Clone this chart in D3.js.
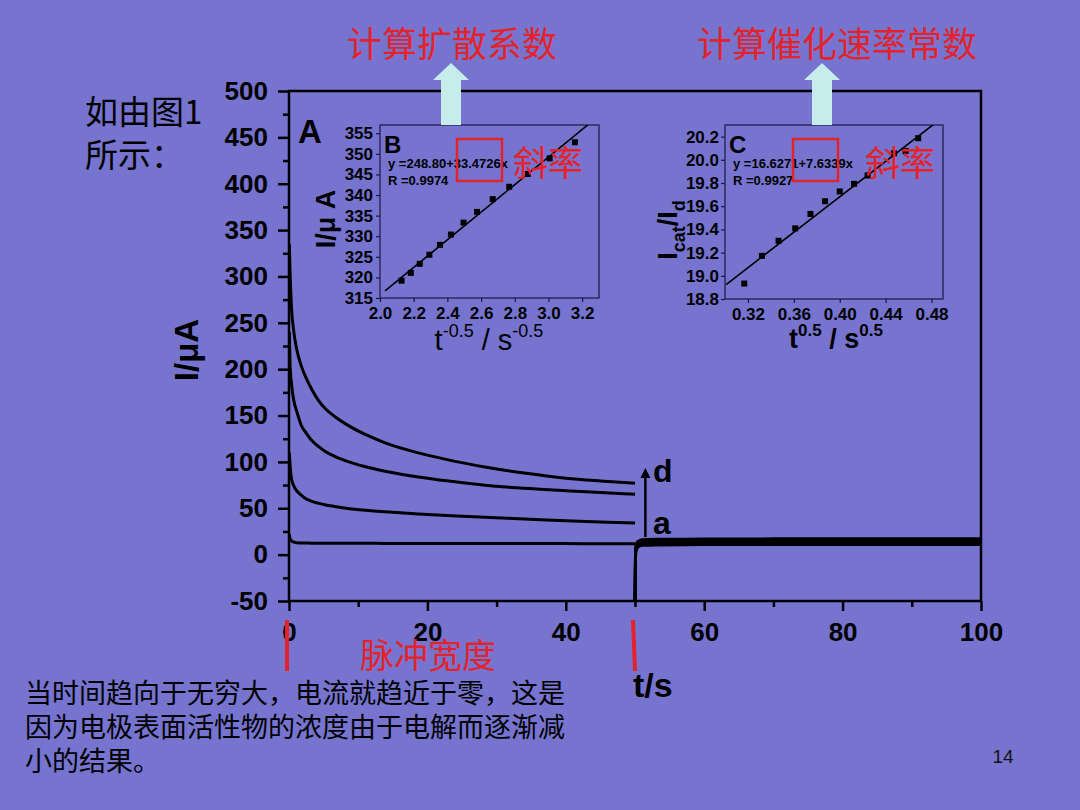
<!DOCTYPE html>
<html>
<head>
<meta charset="utf-8">
<script src="https://cdn.jsdelivr.net/npm/d3@7/dist/d3.min.js"></script>
<style>
	html, body { margin: 0; padding: 0; background: #7674cf; }
	svg { display: block; }
	.num { font-family: "Liberation Sans", Arial, sans-serif; font-weight: bold; fill: #000; }
	.cjk { font-family: "Noto Sans CJK SC", sans-serif; }
</style>
</head>
<body>
<div id="chart"></div>
<script>
// main chart (A): current transients, pulse part 0..50 s
let tPulse = [0.05, 0.15, 0.35, 0.7, 1.1, 1.8, 2.5, 3.3, 4.2, 5.3, 6.6, 9.1, 11.5, 13.9, 18.7, 23.5, 28.3, 34, 40, 45, 50];
let curveA = [22, 17, 15, 13.5, 12.8, 12.6, 12.5, 12.4, 12.4, 12.3, 12.3, 12.2, 12.2, 12.1, 12.1, 12, 12, 11.9, 11.9, 11.8, 11.8];
let curveB = [110, 97, 82, 74, 69, 64, 60, 57.5, 55.5, 53.5, 52, 49.3, 47.5, 46.2, 43.9, 42, 40.3, 38.5, 36.5, 35.2, 34];
let curveC = [240, 205, 185, 166, 155, 139, 131, 123, 117, 111, 106, 99, 94, 90, 83.8, 79, 74.8, 71.5, 69, 67, 65];
let curveD = [335, 305, 268, 240, 222, 203, 190, 178, 167, 157, 149, 137, 128, 120.5, 109.7, 101.4, 94.6, 88, 82.5, 79.5, 77];

// rest part 50..100 s
let tRest = [50, 50.1, 50.4, 51, 53, 60, 70, 80, 90, 100];
let restA = [-60, 2, 8, 10, 10.5, 10.8, 11, 11, 11, 11];
let restB = [-60, 4, 10, 12, 12.5, 12.8, 13, 13, 13, 13];
let restC = [-60, 6, 12, 14, 14.5, 14.8, 15, 15, 15, 15];
let restD = [-60, 8, 14, 16, 16.5, 16.8, 17, 17, 17, 17];

let mainYTicks = [-50, 0, 50, 100, 150, 200, 250, 300, 350, 400, 450, 500];
let mainXTicks = [0, 20, 40, 60, 80, 100];

// inset B: I vs t^-0.5
let bX = [2.128, 2.183, 2.236, 2.293, 2.356, 2.421, 2.496, 2.576, 2.669, 2.767, 2.877, 3.007, 3.157];
let bY = [319.2, 321.1, 323.3, 325.5, 327.9, 330.4, 333.3, 335.9, 339.0, 342.0, 345.1, 348.9, 352.8];
let bFit = [248.80, 33.4726];
let bYTicks = [315, 320, 325, 330, 335, 340, 345, 350, 355];
let bXTicks = [2.0, 2.2, 2.4, 2.6, 2.8, 3.0, 3.2];

// inset C: Icat/Id vs t^0.5
let cX = [0.3168, 0.3322, 0.3467, 0.3612, 0.3745, 0.3872, 0.4000, 0.4125, 0.4243, 0.4472, 0.4574, 0.4684];
let cY = [18.933, 19.172, 19.302, 19.409, 19.533, 19.643, 19.727, 19.793, 19.865, 20.056, 20.076, 20.186];
let cFit = [16.6271, 7.6339];
let cYTicks = [18.8, 19.0, 19.2, 19.4, 19.6, 19.8, 20.0, 20.2];
let cXTicks = [0.32, 0.36, 0.40, 0.44, 0.48];

let red = "#e3232b";
let svg = d3.select("#chart").append("svg")
	.attr("width", 1080)
	.attr("height", 810);

let defs = svg.append("defs");
function clip(id, x, y, w, h) {
	defs.append("clipPath").attr("id", id)
		.append("rect").attr("x", x).attr("y", y).attr("width", w).attr("height", h);
}

// ---------- main chart ----------
let x = d3.scaleLinear().domain([0, 100]).range([289, 981]);
let y = d3.scaleLinear().domain([-50, 500]).range([601, 91]);
clip("clipMain", 289, 91, 692, 510);

let plain = function(d) { return String(d); };
let gy = svg.append("g").attr("transform", "translate(289,0)")
	.call(d3.axisLeft(y).tickValues(mainYTicks).tickSize(11).tickPadding(10).tickFormat(plain));
svg.append("g").attr("transform", "translate(289,0)")
	.call(d3.axisLeft(y).tickValues(mainYTicks.slice(0, -1).map(function(d) { return d + 25; })).tickSize(6).tickFormat(""));
let gx = svg.append("g").attr("transform", "translate(0,601)")
	.call(d3.axisBottom(x).tickValues(mainXTicks).tickSize(10).tickPadding(12).tickFormat(plain));
svg.append("g").attr("transform", "translate(0,601)")
	.call(d3.axisBottom(x).tickValues([10, 30, 50, 70, 90]).tickSize(6).tickFormat(""));
svg.selectAll(".domain").remove();
svg.selectAll(".tick line").attr("stroke", "#000").attr("stroke-width", 2.5);
gy.selectAll("text").attr("class", "num").style("font-size", "26px");
gx.selectAll("text").attr("class", "num").style("font-size", "26px");

svg.append("rect")
	.attr("x", 289).attr("y", 91).attr("width", 692).attr("height", 510)
	.attr("fill", "none").attr("stroke", "#000").attr("stroke-width", 2.5);

let line = d3.line()
	.x(function(d) { return x(d[0]); })
	.y(function(d) { return y(d[1]); })
	.curve(d3.curveMonotoneX);
let curves = svg.append("g").attr("clip-path", "url(#clipMain)");
[curveA, curveB, curveC, curveD].forEach(function(vals) {
	curves.append("path")
		.attr("d", line(tPulse.map(function(t, i) { return [t, vals[i]]; })))
		.attr("fill", "none").attr("stroke", "#000").attr("stroke-width", 3);
});
[restA, restB, restC, restD].forEach(function(vals) {
	curves.append("path")
		.attr("d", line(tRest.map(function(t, i) { return [t, vals[i]]; })))
		.attr("fill", "none").attr("stroke", "#000").attr("stroke-width", 3);
});

// a -> d arrow
defs.append("marker").attr("id", "head")
	.attr("viewBox", "0 0 10 10").attr("refX", 5).attr("refY", 5)
	.attr("markerWidth", 4).attr("markerHeight", 5).attr("orient", "auto")
	.append("path").attr("d", "M0,0L10,5L0,10Z").attr("fill", "#000");
svg.append("line")
	.attr("x1", x(51.5)).attr("x2", x(51.5))
	.attr("y1", y(19)).attr("y2", y(88))
	.attr("stroke", "#000").attr("stroke-width", 2.5)
	.attr("marker-end", "url(#head)");
svg.append("text").attr("class", "num").attr("x", x(52.6)).attr("y", y(78))
	.style("font-size", "32px").text("d");
svg.append("text").attr("class", "num").attr("x", x(52.6)).attr("y", y(22))
	.style("font-size", "32px").text("a");
svg.append("text").attr("class", "num").attr("x", 298).attr("y", 143)
	.style("font-size", "33px").text("A");

svg.append("text").attr("class", "num")
	.attr("transform", "translate(198,350) rotate(-90)")
	.attr("text-anchor", "middle").style("font-size", "33px").text("I/μA");
svg.append("text").attr("class", "num").attr("x", 633).attr("y", 697)
	.style("font-size", "34px").text("t/s");

// ---------- inset helper ----------
function inset(opt) {
	let ix = d3.scaleLinear().domain(opt.xd).range(opt.xr);
	let iy = d3.scaleLinear().domain(opt.yd).range(opt.yr);
	let w = opt.xr[1] - opt.xr[0], h = opt.yr[0] - opt.yr[1];
	clip(opt.id, opt.xr[0], opt.yr[1], w, h);

	let g = svg.append("g");
	let ay = g.append("g").attr("transform", "translate(" + opt.xr[0] + ",0)")
		.call(d3.axisLeft(iy).tickValues(opt.yt).tickSize(4).tickPadding(opt.yPad).tickFormat(opt.yf));
	let ax = g.append("g").attr("transform", "translate(0," + opt.yr[0] + ")")
		.call(d3.axisBottom(ix).tickValues(opt.xt).tickSize(4).tickPadding(5).tickFormat(opt.xf));
	g.selectAll(".domain").remove();
	g.selectAll(".tick line").attr("stroke", "#1a1a40").attr("stroke-width", 1.2);
	ay.selectAll("text").attr("class", "num").style("font-size", "17px");
	ax.selectAll("text").attr("class", "num").style("font-size", "17px");
	g.append("rect")
		.attr("x", opt.xr[0]).attr("y", opt.yr[1]).attr("width", w).attr("height", h)
		.attr("fill", "none").attr("stroke", "#1a1a40").attr("stroke-width", 1.2);

	let inner = g.append("g").attr("clip-path", "url(#" + opt.id + ")");
	inner.append("line")
		.attr("x1", ix(opt.fitFrom)).attr("y1", iy(opt.fit[0] + opt.fit[1] * opt.fitFrom))
		.attr("x2", ix(opt.xd[1])).attr("y2", iy(opt.fit[0] + opt.fit[1] * opt.xd[1]))
		.attr("stroke", "#000").attr("stroke-width", 1.6);
	inner.selectAll("rect.pt")
		.data(opt.px)
		.enter()
		.append("rect")
		.attr("class", "pt")
		.attr("x", function(d) { return ix(d) - 3; })
		.attr("y", function(d, i) { return iy(opt.py[i]) - 3; })
		.attr("width", 6).attr("height", 6)
		.attr("fill", "#000");

	let tx = opt.xr[0] + 6;
	g.append("text").attr("class", "num").attr("x", opt.xr[0] + 4).attr("y", opt.yr[1] + 28)
		.style("font-size", "24px").text(opt.letter);
	g.append("text").attr("class", "num").attr("x", tx + 2).attr("y", opt.yr[1] + 43)
		.style("font-size", "13px").text(opt.eq);
	g.append("text").attr("class", "num").attr("x", tx + 2).attr("y", opt.yr[1] + 60)
		.style("font-size", "13px").text(opt.r);
	return g;
}

inset({
	id: "clipB", xd: [2.0, 3.3], xr: [380, 599], yd: [315, 357], yr: [298, 125],
	xt: bXTicks, yt: bYTicks, xf: d3.format(".1f"), yf: d3.format("d"), yPad: 3,
	px: bX, py: bY, fit: bFit, fitFrom: 2.03,
	letter: "B", eq: "y =248.80+33.4726x", r: "R =0.9974"
});
inset({
	id: "clipC", xd: [0.30, 0.49], xr: [725, 943], yd: [18.8, 20.3], yr: [299, 125],
	xt: cXTicks, yt: cYTicks, xf: d3.format(".2f"), yf: d3.format(".1f"), yPad: 2,
	px: cX, py: cY, fit: cFit, fitFrom: 0.301,
	letter: "C", eq: "y =16.6271+7.6339x", r: "R =0.9927"
});

// inset axis titles
let tB = svg.append("text").attr("class", "num").attr("x", 489).attr("y", 350)
	.attr("text-anchor", "middle").style("font-weight", "normal").style("font-size", "29px");
tB.append("tspan").text("t");
tB.append("tspan").attr("dy", -13).style("font-size", "18px").text("-0.5");
tB.append("tspan").attr("dy", 13).text(" / s");
tB.append("tspan").attr("dy", -13).style("font-size", "18px").text("-0.5");

let tC = svg.append("text").attr("class", "num").attr("x", 836).attr("y", 348)
	.attr("text-anchor", "middle").style("font-size", "27px");
tC.append("tspan").text("t");
tC.append("tspan").attr("dy", -12).style("font-size", "17px").text("0.5");
tC.append("tspan").attr("dy", 12).text(" / s");
tC.append("tspan").attr("dy", -12).style("font-size", "17px").text("0.5");

svg.append("text").attr("class", "num")
	.attr("transform", "translate(335,219) rotate(-90)")
	.attr("text-anchor", "middle").style("font-size", "27px").text("I/μ A");
let yC = svg.append("text").attr("class", "num")
	.attr("transform", "translate(677,230) rotate(-90)")
	.attr("text-anchor", "middle").style("font-size", "27px");
yC.append("tspan").text("I");
yC.append("tspan").attr("dy", 8).style("font-size", "18px").text("cat");
yC.append("tspan").attr("dy", -8).text("/I");
yC.append("tspan").attr("dy", 8).style("font-size", "18px").text("d");

// red boxes and slope labels
[[457, 139], [793, 139]].forEach(function(p) {
	svg.append("rect").attr("x", p[0]).attr("y", p[1]).attr("width", 45).attr("height", 42)
		.attr("fill", "none").attr("stroke", red).attr("stroke-width", 2.5);
});
[513, 865].forEach(function(px) {
	svg.append("text").attr("class", "cjk").attr("x", px).attr("y", 176)
		.attr("fill", red).style("font-size", "35px").text("斜率");
});

// up arrows and red titles
[451, 822].forEach(function(cx) {
	svg.append("path")
		.attr("d", "M" + (cx - 10) + ",125V80H" + (cx - 18) + "L" + cx + ",63L" + (cx + 18) + ",80H" + (cx + 10) + "V125Z")
		.attr("fill", "#c6ecec");
});
svg.append("text").attr("class", "cjk").attr("x", 347).attr("y", 57)
	.attr("fill", red).style("font-size", "35px").text("计算扩散系数");
svg.append("text").attr("class", "cjk").attr("x", 697).attr("y", 57)
	.attr("fill", red).style("font-size", "35px").text("计算催化速率常数");

// pulse width markers
[[287, 287], [633, 635]].forEach(function(p) {
	svg.append("line").attr("x1", p[0]).attr("y1", 620).attr("x2", p[1]).attr("y2", 671)
		.attr("stroke", red).attr("stroke-width", 4);
});
svg.append("text").attr("class", "cjk").attr("x", 360).attr("y", 668)
	.attr("fill", red).style("font-size", "34px").text("脉冲宽度");

// side text
svg.append("text").attr("class", "cjk").attr("x", 85).attr("y", 124)
	.style("font-size", "33px").attr("fill", "#000").text("如由图1");
svg.append("text").attr("class", "cjk").attr("x", 85).attr("y", 167)
	.style("font-size", "33px").attr("fill", "#000").text("所示：");

let notes = ["当时间趋向于无穷大，电流就趋近于零，这是", "因为电极表面活性物的浓度由于电解而逐渐减", "小的结果。"];
notes.forEach(function(s, i) {
	svg.append("text").attr("class", "cjk").attr("x", 25).attr("y", 703 + i * 34)
		.style("font-size", "27px").attr("fill", "#000").text(s);
});
svg.append("text").attr("x", 1003).attr("y", 763).attr("text-anchor", "middle")
	.style("font-family", "Liberation Sans, Arial, sans-serif").style("font-size", "19px")
	.attr("fill", "#111").text("14");
</script>
</body>
</html>
